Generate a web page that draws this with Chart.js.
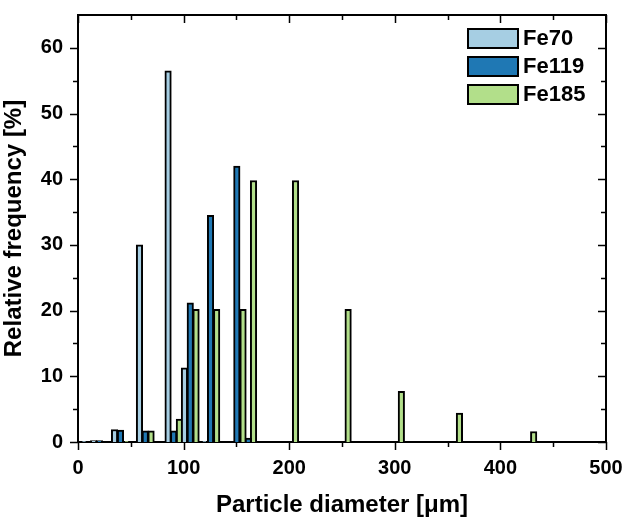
<!DOCTYPE html>
<html>
<head>
<meta charset="utf-8">
<script src="https://cdn.jsdelivr.net/npm/chart.js@4/dist/chart.umd.min.js"></script>
<style>
  html, body { margin: 0; padding: 0; background: #fff; }
  #wrap { width: 627px; height: 522px; }
</style>
</head>
<body>
<div id="wrap"><canvas id="sizeChart"></canvas></div>
<script>
// particle size distribution
const seriesNames = ["Fe70", "Fe119", "Fe185"];
const seriesColors = ["#a6cee3", "#1f78b4", "#b2df8a"];

const fe70X = [5.7, 14.8, 34.6, 58.2, 85.3, 100.8, 119.7];
const fe70Y = [0.1, 0.2, 1.9, 30.0, 56.5, 11.3, 0.1];

const fe119X = [20.3, 40.2, 63.7, 90.6, 106.3, 125.5, 150.4, 161.3];
const fe119Y = [0.2, 1.8, 1.7, 1.7, 21.2, 34.5, 42.0, 0.6];

const fe185X = [46.0, 69.2, 96.0, 111.8, 131.3, 156.3, 166.2, 206.0, 255.8, 306.2, 361.2, 431.5];
const fe185Y = [0.1, 1.7, 3.5, 20.2, 20.2, 20.2, 39.8, 39.8, 20.2, 7.7, 4.4, 1.6];

const xTicks = [0, 100, 200, 300, 400, 500];
const yTicks = [0, 10, 20, 30, 40, 50, 60];

const toPoints = (xs, ys) => xs.map((x, i) => ({ x: x, y: ys[i] }));
const allSeries = [toPoints(fe70X, fe70Y), toPoints(fe119X, fe119Y), toPoints(fe185X, fe185Y)];

const tickFont = { family: "'Liberation Sans', Arial, sans-serif", size: 20, weight: "bold" };
const titleFont = { family: "'Liberation Sans', Arial, sans-serif", size: 24, weight: "bold" };

// frame on top/right plus major and minor ticks (outside bottom/left, inside top/right)
const framePlugin = {
  id: "frame",
  afterDraw(chart) {
    const { ctx, chartArea: a, scales } = chart;
    ctx.save();
    ctx.strokeStyle = "#000";
    ctx.lineWidth = 2;
    ctx.beginPath();
    ctx.moveTo(a.left, a.top);
    ctx.lineTo(a.right, a.top);
    ctx.lineTo(a.right, a.bottom);
    ctx.stroke();

    ctx.lineWidth = 1.5;
    ctx.beginPath();
    for (let v = 0; v <= 500; v += 50) {
      const px = Math.round(scales.x.getPixelForValue(v)) + 0.5;
      const len = v % 100 === 0 ? 8 : 5;
      ctx.moveTo(px, a.bottom); ctx.lineTo(px, a.bottom + len);
      ctx.moveTo(px, a.top); ctx.lineTo(px, a.top + len);
    }
    for (let v = 0; v <= 60; v += 5) {
      const py = Math.round(scales.y.getPixelForValue(v)) + 0.5;
      const len = v % 10 === 0 ? 8 : 5;
      ctx.moveTo(a.left, py); ctx.lineTo(a.left - len, py);
      ctx.moveTo(a.right, py); ctx.lineTo(a.right - len, py);
    }
    ctx.stroke();

    // legend
    const lx = a.right - 138, ly = a.top + 14;
    ctx.font = "bold 22px 'Liberation Sans', Arial, sans-serif";
    ctx.textBaseline = "middle";
    ctx.textAlign = "left";
    seriesNames.forEach((name, i) => {
      const y = ly + i * 28;
      ctx.fillStyle = seriesColors[i];
      ctx.fillRect(lx, y, 50, 19);
      ctx.lineWidth = 2;
      ctx.strokeStyle = "#000";
      ctx.strokeRect(lx, y, 50, 19);
      ctx.fillStyle = "#000";
      ctx.fillText(name, lx + 55, y + 10);
    });
    ctx.restore();
  }
};

new Chart(document.getElementById("sizeChart").getContext("2d"), {
  type: "bar",
  data: {
    datasets: seriesNames.map((name, i) => ({
      label: name,
      data: allSeries[i],
      backgroundColor: seriesColors[i],
      borderColor: "#000",
      borderWidth: 2,
      borderSkipped: "start",
      barThickness: 6.5,
      grouped: false,
    })),
  },
  options: {
    responsive: true,
    maintainAspectRatio: false,
    animation: false,
    layout: { padding: { top: 15, right: 21, left: 0, bottom: 0 } },
    plugins: {
      legend: { display: false },
      tooltip: { enabled: false },
    },
    scales: {
      x: {
        type: "linear",
        offset: false,
        min: 0,
        max: 500,
        afterFit: (s) => { s.height = 80; s.paddingLeft = 0; s.paddingRight = 0; },
        afterBuildTicks: (s) => { s.ticks = xTicks.map((v) => ({ value: v })); },
        grid: { display: false, drawTicks: false, offset: false },
        border: { display: true, color: "#000", width: 2 },
        ticks: { color: "#000", font: tickFont, padding: 14, maxRotation: 0 },
        title: {
          display: true,
          text: "Particle diameter [μm]",
          color: "#000",
          font: titleFont,
          padding: { top: 0, bottom: 2 },
        },
      },
      y: {
        min: 0,
        max: 65,
        afterFit: (s) => { s.width = 78; s.paddingTop = 0; s.paddingBottom = 0; },
        afterBuildTicks: (s) => { s.ticks = yTicks.map((v) => ({ value: v })); },
        grid: { display: false, drawTicks: false },
        border: { display: true, color: "#000", width: 2 },
        ticks: { color: "#000", font: tickFont, padding: 15 },
        title: {
          display: true,
          text: "Relative frequency [%]",
          color: "#000",
          font: titleFont,
          padding: { top: 0, bottom: 2 },
        },
      },
    },
  },
  plugins: [framePlugin],
});
</script>
</body>
</html>
